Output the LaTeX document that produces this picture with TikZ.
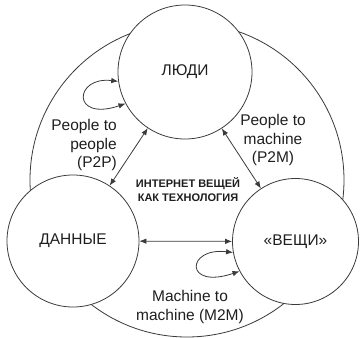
\documentclass[tikz,border=0pt]{standalone}
\usepackage{fontspec}
\setmainfont{Liberation Sans}
\usetikzlibrary{arrows.meta}
\definecolor{iotcolor0000}{RGB}{255,255,255}
\definecolor{iotcolor0001}{RGB}{58,58,58}
\definecolor{iotcolor0002}{RGB}{30,30,30}

\begin{document}
\begin{tikzpicture}[yscale=-1
                ,istyle1/.style={circle,draw=iotcolor0001,fill=iotcolor0000,line width=0.8pt,inner sep=0pt,text=iotcolor0002,font=\fontsize{15.5pt}{18.5pt}\selectfont}
                ,istyle2/.style={color=iotcolor0001,line width=0.8pt}
                ,istyle3/.style={color=iotcolor0001,line width=0.8pt,{Latex[length=7pt,width=5.5pt]}-{Latex[length=7pt,width=5.5pt]}}
                ,istyle4/.style={text=iotcolor0002,font=\fontsize{15.5pt}{18.5pt}\selectfont,inner sep=0pt}
                ,istyle5/.style={text=iotcolor0002,font=\bfseries\fontsize{11pt}{14pt}\selectfont,inner sep=0pt,align=center}
            ]
            \useasboundingbox (0pt,0pt) rectangle (360pt,338pt);
            \draw[istyle2] (187pt,180pt) circle (157pt);
            \node[istyle1,minimum size=134pt] (people) at (185pt,72pt) {ЛЮДИ};
            \node[istyle1,minimum size=132pt] (data) at (73pt,241pt) {ДАННЫЕ};
            \node[istyle1,minimum size=126pt] (things) at (295.5pt,241.5pt) {«ВЕЩИ»};
            \draw[istyle3] (people) -- (data);
            \draw[istyle3] (people) -- (things);
            \draw[istyle3] (data) -- (things);
            \draw[istyle3] (people.188) .. controls (74pt,76pt) and (71pt,122pt) .. (people.208);
            \draw[istyle3] (things.190) .. controls (186pt,247pt) and (184pt,290pt) .. (things.208);
            \node[istyle4,align=right,anchor=east] (ptop) at (117pt,145pt) {People to\\people\\(P2P)};
            \node[istyle4,align=center] (ptom) at (273pt,140pt) {People to\\machine\\(P2M)};
            \node[istyle5] (iot) at (188pt,190pt) {ИНТЕРНЕТ ВЕЩЕЙ\\КАК ТЕХНОЛОГИЯ};
            \node[istyle4,align=center] (mtom) at (190pt,307pt) {Machine to\\machine (M2M)};
        \end{tikzpicture}
\end{document}
